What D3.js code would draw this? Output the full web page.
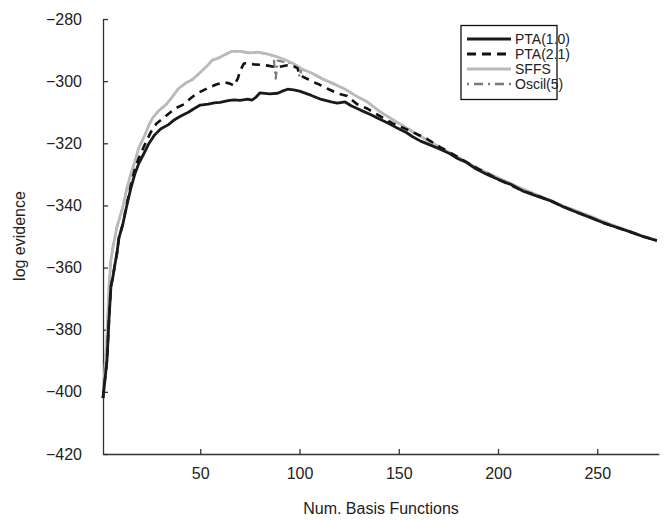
<!DOCTYPE html>
<html>
<head>
<meta charset="utf-8">
<script src="https://cdn.jsdelivr.net/npm/d3@7"></script>
<style>
  body { margin: 0; background: #fff; }
  svg text { font-family: "Liberation Sans", Arial, sans-serif; fill: #222; }
</style>
</head>
<body>
<div id="chart"></div>
<script>
// values (basis count, log evidence)
const pta10N = [1,3,4,5,6,7,8,9,11,13,15,17,19,22,24,27,30,34,37,40,44,47,50,54,57,60,64,67,70,74,76,78,80,85,89,91,94,97,100,106,111,116,119,123,126,131,136,140,145,149,154,157,161,166,170,175,179,184,189,195,200,207,213,220,227,233,240,247,253,260,267,273,280];
const pta10V = [-402,-390,-377,-366,-363,-359,-355.5,-350.5,-346,-340,-334.5,-330,-326.5,-322.8,-320.2,-317.3,-315.4,-314,-312.4,-311.3,-310,-308.8,-307.7,-307.4,-307,-306.8,-306.3,-306,-306.2,-305.8,-306.1,-305.2,-303.8,-304.1,-303.9,-303.3,-302.6,-302.8,-303.2,-304.6,-305.9,-306.7,-307.1,-306.7,-307.9,-309.4,-310.8,-312.1,-313.6,-315,-316.6,-317.9,-319.3,-320.6,-321.7,-323.1,-324.7,-326.1,-328.3,-330.2,-331.6,-333.4,-335.5,-337.1,-338.6,-340.5,-342.3,-344,-345.6,-347.1,-348.6,-350,-351.3];

const pta21N = [1,3,4,5,6,7,8,9,11,13,15,17,19,22,25,28,32,35,38,42,45,48,52,55,58,62,65,67,68,69,70,72,74,77,80,84,87,90,94,97,99,100,104,107,110,115,119,124,129,134,139,147,155,164,171,179,187,194,202,211,222,233,240,247,253,260,267,273,280];
const pta21V = [-402,-390,-377,-366,-363,-359,-355.5,-350.5,-346,-339.5,-333.5,-328.5,-324.8,-320.5,-316.5,-313.6,-311.6,-310,-308.6,-307.4,-305.6,-304.1,-302.8,-301.9,-301.1,-300.3,-300.8,-301.5,-300.2,-299,-296.8,-294.3,-294.2,-294.6,-294.7,-295,-295.4,-295.4,-294.9,-295.2,-295.8,-298,-299.3,-300.3,-301.1,-302.7,-303.9,-304.8,-307.4,-308.8,-310.7,-313.6,-315.8,-318.5,-321.3,-324.1,-327.2,-329.5,-332.2,-334.9,-337.4,-340.4,-342.3,-344,-345.6,-347.1,-348.6,-350,-351.3];

const sffsN = [1,3,4,5,6,8,11,13,15,17,19,22,24,26,29,33,36,39,43,46,49,53,56,59,63,66,70,75,79,84,88,93,97,101,106,111,117,123,128,134,140,148,157,166,174,182,190,200,211,222,233,245,256,267,273,280];
const sffsV = [-402,-382,-366,-357.5,-353.5,-347,-340.5,-334.5,-330,-326,-321.5,-317.5,-314.3,-311.8,-309.6,-307.4,-305,-302.4,-300.5,-299.5,-297.8,-295.4,-293.3,-292.6,-291.3,-290.4,-290.4,-290.9,-290.7,-291.3,-292,-293.2,-294.4,-296,-297.4,-299.1,-300.8,-302.6,-304.6,-306.6,-309.6,-312.8,-316.3,-319.6,-322.5,-325.3,-328.1,-331.1,-334.3,-337.2,-340.2,-343.1,-345.9,-348.5,-349.9,-351.2];

const oscilN = [1,3,4,5,6,8,11,13,15,17,19,22,24,26,29,33,36,39,43,46,49,53,56,59,63,66,70,75,79,84,86,87,88,89,93,96,99,100,101,106,111,117,123,128,134,140,148,157,166,174,182,190,200,211,222,233,245,256,267,273,280];
const oscilV = [-402,-382,-366,-357.5,-353.5,-347,-340.5,-334.5,-330,-326,-321.5,-317.5,-314.3,-311.8,-309.6,-307.4,-305,-302.4,-300.5,-299.5,-297.8,-295.4,-293.3,-292.6,-291.3,-290.4,-290.4,-290.9,-290.7,-291.3,-291.6,-292.3,-299.2,-293.4,-293.9,-294.3,-295.3,-298.6,-296.2,-297.4,-299.1,-300.8,-302.6,-304.6,-306.6,-309.6,-312.8,-316.3,-319.6,-322.5,-325.3,-328.1,-331.1,-334.3,-337.2,-340.2,-343.1,-345.9,-348.5,-349.9,-351.2];

const xTicks = [50, 100, 150, 200, 250];
const yTicks = [-420, -400, -380, -360, -340, -320, -300, -280];
const seriesNames = ["PTA(1.0)", "PTA(2.1)", "SFFS", "Oscil(5)"];

function init() {
    let w = 664;
    let h = 521;

    let svg = d3.select("#chart")
        .append("svg")
        .attr("width", w)
        .attr("height", h);

    let x = d3.scaleLinear().domain([1, 281]).range([103, 658.8]);
    let y = d3.scaleLinear().domain([-420, -280]).range([454, 19]);

    // axes, ticks pointing inwards
    svg.append("g")
        .attr("transform", "translate(0,454)")
        .call(d3.axisBottom(x).tickValues(xTicks).tickSizeInner(-5).tickSizeOuter(0).tickPadding(14))
        .call(g => g.selectAll("text").style("font-size", "16px"));

    svg.append("g")
        .attr("transform", "translate(103,0)")
        .call(d3.axisLeft(y).tickValues(yTicks).tickSizeInner(-5).tickSizeOuter(0).tickPadding(21))
        .call(g => g.selectAll("text").style("font-size", "16px"));

    svg.selectAll(".domain, .tick line")
        .attr("stroke", "#333")
        .attr("stroke-width", 1.3);

    svg.append("text")
        .attr("x", 381)
        .attr("y", 514)
        .attr("text-anchor", "middle")
        .style("font-size", "16px")
        .text("Num. Basis Functions");

    svg.append("text")
        .attr("transform", "translate(19,236) rotate(-90)")
        .attr("text-anchor", "middle")
        .attr("dy", "0.35em")
        .style("font-size", "16px")
        .text("log evidence");

    let line = d3.line()
        .x(d => x(d[0]))
        .y(d => y(d[1]));

    // drawing order: oscil under sffs, dashed and solid on top
    let series = [
        { n: oscilN, v: oscilV, color: "#7a7a7a", width: 2.2, dash: "2,4,8,4" },
        { n: sffsN, v: sffsV, color: "#bababa", width: 2.8, dash: null },
        { n: pta21N, v: pta21V, color: "#111", width: 2.6, dash: "8,6" },
        { n: pta10N, v: pta10V, color: "#1a1a1a", width: 2.8, dash: null }
    ];

    series.forEach(function (s) {
        svg.append("path")
            .datum(s.n.map((d, i) => [d, s.v[i]]))
            .attr("d", line)
            .attr("fill", "none")
            .attr("stroke", s.color)
            .attr("stroke-width", s.width)
            .attr("stroke-linejoin", "round")
            .attr("stroke-dasharray", s.dash);
    });

    // legend
    let legendStyles = [
        { color: "#1a1a1a", width: 2.8, dash: null },
        { color: "#111", width: 2.8, dash: "9,6" },
        { color: "#bababa", width: 2.8, dash: null },
        { color: "#7a7a7a", width: 2.4, dash: "2,5,9,5" }
    ];

    let legend = svg.append("g");
    legend.append("rect")
        .attr("x", 461)
        .attr("y", 25.5)
        .attr("width", 96)
        .attr("height", 74)
        .attr("fill", "#fff")
        .attr("stroke", "#111")
        .attr("stroke-width", 1.3);

    seriesNames.forEach(function (name, i) {
        let yy = 39 + i * 15;
        legend.append("line")
            .attr("x1", 467)
            .attr("x2", 511)
            .attr("y1", yy)
            .attr("y2", yy)
            .attr("stroke", legendStyles[i].color)
            .attr("stroke-width", legendStyles[i].width)
            .attr("stroke-dasharray", legendStyles[i].dash);
        legend.append("text")
            .attr("x", 515)
            .attr("y", yy)
            .attr("dy", "0.35em")
            .style("font-size", "14px")
            .text(name);
    });
}

window.onload = init;
</script>
</body>
</html>
